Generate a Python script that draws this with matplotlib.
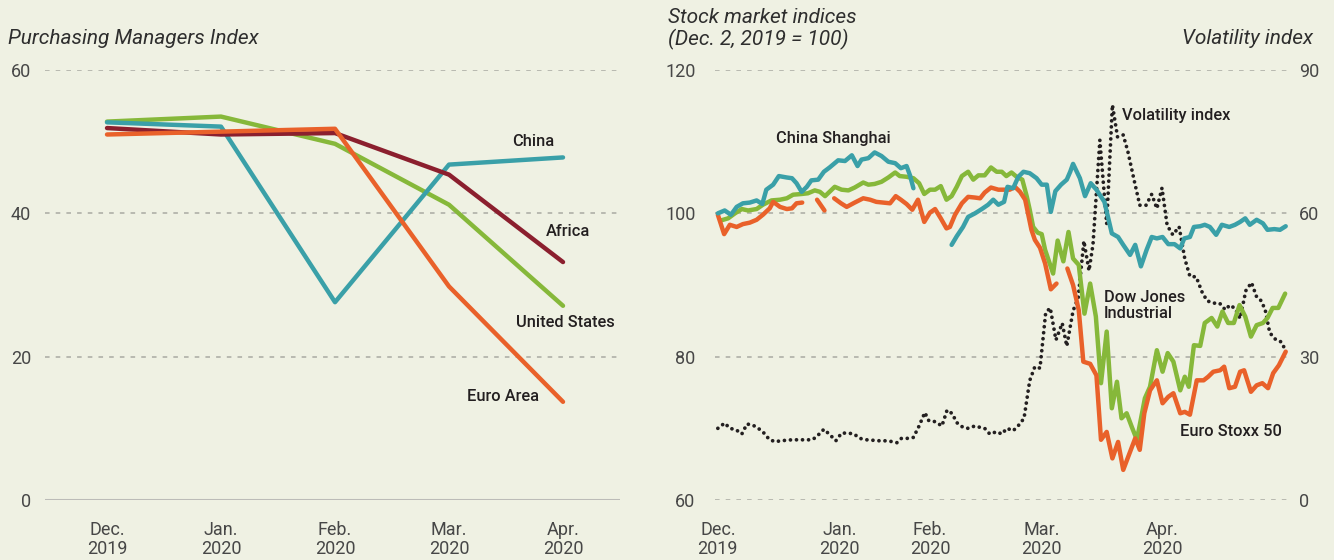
import numpy as np
import matplotlib
matplotlib.use("Agg")
import matplotlib.pyplot as plt

# ---------------- data ----------------
pmi_months = ["Dec.\n2019", "Jan.\n2020", "Feb.\n2020", "Mar.\n2020", "Apr.\n2020"]
pmi_china = [52.7, 52.1, 27.6, 46.8, 47.8]
pmi_africa = [51.9, 51.0, 51.2, 45.4, 33.2]
pmi_us = [52.8, 53.5, 49.7, 41.2, 27.1]
pmi_euro = [51.0, 51.4, 51.8, 29.8, 13.7]

# stock indices: x = trading days since Dec. 2, 2019 (nan = market closed)
shanghai_day = [0.0, 1.2, 2.3, 3.3, 4.4, 5.6, 6.8, 7.8, 8.5, 9.7, 10.7, 12.1, 13.0, 13.8, 14.7,
                15.6, 16.4, 17.6, 18.6, 19.6, 21.1, 22.3, 23.5, 24.5, 25.2, 26.4, 27.5, 28.7,
                29.9, 31.1, 32.1, 33.1, 33.7, 34.3, 37.5,
                41.0, 41.9, 43.0, 43.9, 45.1, 46.3, 47.4, 48.3, 49.2, 50.2, 50.8, 51.8, 52.7,
                53.6, 54.7, 55.9, 56.8, 57.7, 58.4, 59.2, 60.2, 61.2, 61.8, 62.3, 63.5, 64.4,
                65.4, 66.4, 67.8, 69.1, 70.2, 71.1, 72.3, 73.2, 74.2, 75.2, 76.1, 77.0, 78.0,
                79.0, 80.1, 81.1, 81.8, 82.8, 83.5, 84.6, 85.4, 86.3, 87.4, 88.4, 89.7, 90.7,
                91.6, 92.5, 93.3, 94.5, 95.6, 96.4, 97.6, 98.6, 99.6]
shanghai_val = [100.0, 100.4, 99.8, 100.9, 101.4, 101.5, 101.8, 101.3, 103.3, 104.0, 105.2, 105.0,
                104.9, 104.2, 103.0, 103.7, 104.6, 104.7, 105.8, 106.4, 107.4, 107.3, 108.1,
                106.6, 107.5, 107.7, 108.5, 108.0, 107.2, 107.0, 106.3, 106.6, 105.3, 103.5, np.nan,
                95.6, 96.8, 98.1, 99.5, 100.0, 100.6, 101.2, 101.9, 101.2, 101.6, 103.7, 103.5,
                105.1, 105.8, 105.6, 104.9, 104.0, 104.0, 100.2, 103.1, 104.0, 104.7, 105.8,
                106.9, 104.9, 102.4, 104.2, 103.3, 101.6, 97.2, 96.7, 95.6, 94.2, 95.6, 92.6,
                94.9, 96.7, 96.5, 96.7, 95.7, 95.7, 95.1, 96.5, 96.7, 98.1, 98.2, 98.4, 98.1,
                97.0, 98.4, 98.1, 98.4, 98.8, 99.3, 98.4, 99.1, 98.6, 97.7, 97.8, 97.7, 98.2]

dow_day = [0.5, 1.8, 3.0, 4.2, 5.3, 6.8, 7.9, 9.4, 10.9, 12.1, 13.2, 14.7, 15.8, 17.0, 17.9, 18.8,
           20.5, 21.7, 22.9, 24.0, 25.5, 26.4, 27.5, 28.7, 29.9, 31.1, 31.9, 33.1, 34.3, 35.3,
           36.2, 37.2, 38.1, 39.1, 40.1, 41.0, 41.9, 42.8, 43.9, 44.8, 45.7, 46.8, 47.9, 48.9,
           49.8, 50.6, 51.5, 52.4, 53.4, 54.2, 54.7, 55.3, 56.1, 56.8, 57.4, 58.8, 59.6, 60.6,
           61.5, 62.3, 63.3, 64.3, 65.3, 66.3, 67.2, 68.2, 69.1, 70.0, 70.8, 71.7, 72.6, 73.5,
           74.9, 75.8, 77.0, 78.0, 78.9, 79.9, 81.1, 81.9, 82.6, 83.5, 84.6, 85.4, 86.6, 87.6,
           88.5, 89.5, 90.5, 91.5, 92.5, 93.5, 94.5, 95.6, 96.4, 97.3, 98.3, 99.5]
dow_val = [99.0, 99.3, 100.0, 100.6, 100.4, 100.6, 101.2, 101.8, 101.9, 102.1, 102.6, 102.7,
           102.8, 103.2, 103.0, 102.4, 103.7, 103.3, 103.2, 103.6, 104.3, 104.0, 104.1, 104.4,
           105.0, 105.7, 105.2, 105.1, 104.9, 104.2, 102.7, 103.3, 103.3, 103.8, 101.9, 102.4,
           103.7, 105.2, 105.8, 104.7, 105.3, 105.3, 106.4, 105.8, 105.8, 105.2, 105.7, 105.1,
           104.7, 102.3, 100.5, 98.1, 97.3, 97.1, 94.9, 91.6, 96.2, 93.3, 97.4, 93.7, 92.8,
           86.0, 90.2, 85.6, 76.3, 83.5, 72.8, 76.5, 71.4, 72.1, 70.2, 68.4, 74.2, 75.8, 80.9,
           77.9, 80.5, 79.3, 75.3, 77.2, 75.8, 81.6, 81.5, 84.7, 85.4, 84.2, 86.3, 84.7, 84.7,
           87.2, 85.6, 82.8, 84.4, 84.7, 85.4, 86.8, 86.8, 88.8]

stoxx_day = [0.0, 1.1, 2.1, 3.3, 4.4, 5.6, 6.8, 7.9, 9.1, 9.7, 10.9, 12.1, 13.0, 13.8, 14.8, 16.0,
             17.4, 18.7, 19.5,
             20.4, 21.6, 22.6, 24.0, 25.5, 26.7, 27.8, 29.0, 30.2, 31.2, 32.1, 33.1, 34.1, 35.1,
             36.2, 37.2, 38.1, 39.1, 40.1, 40.7, 41.6, 42.8, 43.9, 45.1, 46.0, 46.8, 47.9, 49.2,
             50.4, 51.2, 52.1, 53.0, 53.9, 54.4, 55.0, 55.6, 56.5, 57.4, 58.4, 59.4, 60.4,
             61.3, 62.3, 63.3, 64.1, 65.3, 66.4, 67.2, 68.2, 69.2, 70.2, 71.1, 72.1, 73.2, 74.0,
             74.8, 75.8, 77.0, 78.0, 79.0, 79.9, 81.1, 81.9, 82.8, 84.0, 85.2, 86.0, 86.9, 88.1,
             88.8, 89.7, 90.7, 91.6, 92.3, 93.5, 94.5, 95.5, 96.5, 97.4, 98.4, 99.6]
stoxx_val = [99.8, 97.1, 98.4, 98.1, 98.5, 98.7, 99.1, 99.8, 100.7, 101.6, 100.9, 100.6, 100.7,
             101.4, 101.5, np.nan,
             101.9, 100.4, np.nan,
             102.1, 101.4, 100.9, 101.5, 102.1, 101.9, 101.6, 101.5, 101.4, 102.4, 101.9, 101.3,
             100.5, 101.9, 98.8, 100.1, 100.6, 99.3, 97.9, 98.1, 99.8, 101.4, 102.3, 102.2,
             102.1, 102.9, 103.6, 103.3, 103.3, 103.3, 103.7, 103.0, 101.9, 100.0, 97.7, 96.3,
             95.2, 93.0, 89.4, 90.2, np.nan,
             92.3, 90.0, 86.5, 79.3, 79.0, 77.4, 68.4, 69.5, 65.8, 68.1, 64.2, 66.3, 68.6, 67.0,
             72.1, 75.3, 76.7, 73.5, 74.4, 74.9, 72.1, 72.3, 71.9, 76.7, 76.7, 77.2, 77.9, 78.1,
             78.6, 75.6, 75.8, 77.9, 78.1, 75.1, 76.0, 76.3, 75.6, 77.7, 78.8, 80.7]

vix_day = [0.0, 1.2, 2.1, 3.2, 4.2, 5.1, 6.1, 7.1, 8.1, 9.0, 10.0, 11.1, 12.0, 13.0, 14.0, 15.0,
           16.0, 16.7, 17.6, 18.6, 19.7, 20.7, 21.7, 22.9, 23.9, 24.9, 26.1, 27.2, 28.2, 29.2,
           30.2, 31.4, 32.2, 33.4, 34.3, 35.3, 36.3, 37.0, 38.1, 39.3, 40.2, 41.1, 41.9, 43.0,
           43.9, 45.1, 46.0, 46.8, 47.7, 48.9, 49.8, 50.7, 51.8, 52.8, 53.7, 54.7, 55.6, 56.5,
           57.5, 58.3, 59.3, 60.4, 61.2, 62.3, 63.2, 64.2, 65.1, 65.8, 67.0, 68.2, 69.2, 70.1,
           71.1, 71.9, 73.0, 74.0, 75.1, 76.1, 77.0, 77.9, 78.8, 79.8, 80.9, 81.9, 82.8, 83.9,
           84.9, 85.8, 86.9, 88.0, 89.0, 89.8, 90.7, 91.6, 92.6, 93.6, 94.5, 95.3, 96.0, 96.8,
           97.9, 98.8, 99.5]
vix_val = [15.0, 16.1, 15.0, 14.7, 13.8, 15.9, 15.7, 15.0, 14.0, 12.7, 12.2, 12.4, 12.5, 12.6,
           12.6, 12.6, 12.6, 12.7, 13.6, 14.8, 13.6, 12.4, 14.0, 14.0, 13.8, 12.9, 12.6, 12.5,
           12.4, 12.4, 12.3, 12.0, 12.9, 12.9, 13.1, 15.5, 18.3, 16.6, 16.4, 15.5, 18.8, 18.1,
           16.2, 15.2, 15.0, 15.5, 15.2, 15.0, 13.8, 14.3, 13.8, 15.0, 14.5, 15.7, 17.1, 25.0,
           27.9, 27.6, 39.2, 40.2, 33.5, 37.0, 32.2, 39.6, 42.3, 54.2, 48.0, 53.5, 75.3, 57.8,
           82.7, 76.0, 76.4, 73.0, 67.0, 61.7, 61.7, 64.0, 61.0, 65.3, 57.5, 55.5, 57.2, 50.5,
           46.8, 46.7, 43.6, 41.7, 41.2, 41.2, 39.8, 40.8, 40.1, 38.0, 43.8, 45.5, 42.5, 41.7,
           39.8, 35.0, 33.5, 33.1, 31.5]

stock_months = ["Dec.\n2019", "Jan.\n2020", "Feb.\n2020", "Mar.\n2020", "Apr.\n2020"]
stock_month_days = [0, 21.4, 37.2, 56.8, 77.9]

# ---------------- style ----------------
BG = "#eff1e3"
TEAL = "#3aa0a8"
GREEN = "#86b83a"
ORANGE = "#e9612a"
MAROON = "#8b1f2e"
DARK = "#231f20"
TICK = "#474747"
GRID = "#a9aaa3"
FONT = ["Roboto", "DejaVu Sans"]
plt.rcParams["font.family"] = FONT

W, H = 1334, 560
fig = plt.figure(figsize=(W / 100, H / 100), dpi=100, facecolor=BG)


def rect(x0, x1, ytop, ybot):
    return [x0 / W, 1 - ybot / H, (x1 - x0) / W, (ybot - ytop) / H]


def style_axes(ax):
    ax.set_facecolor("none")
    for s in ax.spines.values():
        s.set_visible(False)
    ax.tick_params(length=0, colors=TICK, labelsize=13)


LW = 3.2

# ---------- left: PMI ----------
axL = fig.add_axes(rect(45, 620, 70, 500))
style_axes(axL)
xm = np.arange(len(pmi_months))
axL.set_xlim(-0.544, 4.5)
axL.set_ylim(0, 60)
for v in [20, 40, 60]:
    axL.axhline(v, color=GRID, lw=1.1, ls=(0, (3, 4)), zorder=1)
axL.axhline(0, color="#bcbcb8", lw=2.2, zorder=1)
axL.set_yticks([0, 20, 40, 60])
axL.set_xticks(xm)
axL.set_xticklabels(pmi_months, linespacing=1.05)
axL.tick_params(axis="x", pad=15)
axL.tick_params(axis="y", pad=10)

for vals, c in [(pmi_us, GREEN), (pmi_china, TEAL), (pmi_africa, MAROON), (pmi_euro, ORANGE)]:
    axL.plot(xm, vals, color=c, lw=LW, solid_capstyle="round", solid_joinstyle="round", zorder=3)

ann = dict(fontsize=11.8, fontweight="medium", color=DARK, ha="center", va="center")
axL.text(3.74, 50.0, "China", **ann)
axL.text(4.04, 37.4, "Africa", **ann)
axL.text(4.02, 24.8, "United States", **ann)
axL.text(3.47, 14.4, "Euro Area", **ann)

fig.text(8 / W, 1 - 38 / H, "Purchasing Managers Index", fontsize=15, style="italic",
         color="#2e2e2e", ha="left", va="center")

# ---------- right: stock indices ----------
axR = fig.add_axes(rect(715, 1288, 70, 500))
style_axes(axR)
axR.set_xlim(-0.5, 100.0)
axR.set_ylim(60, 120)
for v in [60, 80, 100, 120]:
    axR.axhline(v, color=GRID, lw=1.1, ls=(0, (3, 4)), zorder=1)
axR.set_yticks([60, 80, 100, 120])
axR.set_xticks(stock_month_days)
axR.set_xticklabels(stock_months, linespacing=1.05)
axR.tick_params(axis="x", pad=15)
axR.tick_params(axis="y", pad=14)

axV = axR.twinx()
style_axes(axV)
axV.set_ylim(0, 90)
axV.set_yticks([0, 30, 60, 90])
axV.tick_params(axis="y", pad=8)
axV.set_zorder(axR.get_zorder() + 1)

axV.plot(vix_day, vix_val, color=DARK, lw=2.7, ls=(0, (0.01, 1.6)),
         dash_capstyle="round", zorder=2)
kw = dict(lw=LW, solid_capstyle="round", solid_joinstyle="round")
axV.plot(dow_day, [(v - 60) * 1.5 for v in dow_val], color=GREEN, zorder=3, **kw)
axV.plot(stoxx_day, [(v - 60) * 1.5 for v in stoxx_val], color=ORANGE, zorder=4, **kw)
axV.plot(shanghai_day, [(v - 60) * 1.5 for v in shanghai_val], color=TEAL, zorder=5, **kw)

ann2 = dict(fontsize=11.8, fontweight="medium", color=DARK, va="center")
axR.text(20.2, 110.4, "China Shanghai", ha="center", **ann2)
axR.text(70.9, 113.6, "Volatility index", ha="left", **ann2)
axR.text(67.7, 87.1, "Dow Jones\nIndustrial", ha="left", linespacing=1.1, **ann2)
axR.text(81.1, 69.5, "Euro Stoxx 50", ha="left", **ann2)

fig.text(668 / W, 1 - 8 / H, "Stock market indices\n(Dec. 2, 2019 = 100)", fontsize=15,
         style="italic", color="#2e2e2e", ha="left", va="top", linespacing=1.12)
fig.text(1313 / W, 1 - 38 / H, "Volatility index", fontsize=15, style="italic",
         color="#2e2e2e", ha="right", va="center")

fig.savefig("out.png", dpi=100, facecolor=BG)
